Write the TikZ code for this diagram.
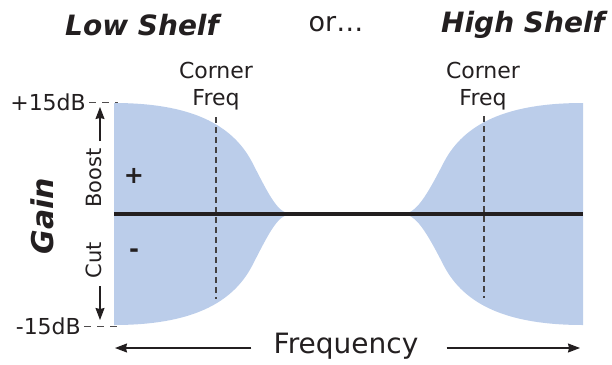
\documentclass[tikz,border=0pt]{standalone}
\usepackage{fontspec}
\setmainfont{DejaVu Sans}
\usepackage{tikz}
\usetikzlibrary{arrows.meta,positioning}

\definecolor{shelfblue}{RGB}{187,205,234}
\definecolor{ink}{RGB}{35,31,32}

\begin{document}
\begin{tikzpicture}[
  x=1pt, y=-1pt,
  title/.style={font=\fontsize{28}{32}\selectfont\bfseries\itshape, text=ink, inner sep=0pt},
  label/.style={font=\fontsize{22}{27}\selectfont, text=ink, align=center, inner sep=0pt},
  side/.style={font=\fontsize{21}{24}\selectfont, text=ink, rotate=90, inner sep=0pt},
  cornerline/.style={draw=ink!85, line width=1.1pt, dash pattern=on 6pt off 4pt},
  tick/.style={draw=ink!80, line width=0.9pt, dash pattern=on 7pt off 6pt},
  flow/.style={-{Stealth[length=12pt,width=9pt,inset=1pt]}, line width=1.2pt, draw=ink}
]
\useasboundingbox (0,0) rectangle (612,364);

% shaded shelf regions
\fill[shelfblue] (114,103) .. controls (190,103) and (232,124) .. (252,162)
  .. controls (270,197) and (278,214) .. (292,214)
  .. controls (278,214) and (270,231) .. (252,266)
  .. controls (232,304) and (190,325) .. (114,325) -- cycle;
\fill[shelfblue] (583,103) .. controls (506,103) and (464,124) .. (444,162)
  .. controls (426,197) and (416,214) .. (402,214)
  .. controls (416,214) and (426,231) .. (444,266)
  .. controls (464,304) and (506,325) .. (583,325) -- cycle;

% corner frequencies
\coordinate (lowtop) at (216,117);
\coordinate (lowbot) at (216,299);
\coordinate (hightop) at (484,116);
\coordinate (highbot) at (484,298);
\draw[cornerline] (lowtop) -- (lowbot);
\draw[cornerline] (hightop) -- (highbot);

% flat response
\coordinate (flatL) at (114,214);
\coordinate (flatR) at (583,214);
\draw[ink, line width=3.6pt] (flatL) -- (flatR);

% titles
\node[title] (low) at (142,25) {Low Shelf};
\node[label, font=\fontsize{27}{30}\selectfont] (or) at (336,24) {or\ldots};
\node[title] (high) at (523,25) {High Shelf};

\node[label] (lowcorner) at (216,86) {Corner\\Freq};
\node[label] (highcorner) at (483,86) {Corner\\Freq};

% gain axis
\node[label, anchor=east] (plus15) at (86,102) {+15dB};
\node[label, anchor=east] (minus15) at (81,326) {-15dB};
\coordinate (plustick) at (118,102);
\coordinate (minustick) at (118,326);
\draw[tick] ([xshift=3pt]plus15.east) -- (plustick);
\draw[tick] ([xshift=3pt]minus15.east) -- (minustick);

\node[side] (boost) at (94,178) {Boost};
\node[side] (cut) at (94,260) {Cut};
\coordinate (boosttip) at (100,107);
\coordinate (cuttip) at (100,320);
\draw[flow] (boost.east -| boosttip) ++(0,-7) -- (boosttip);
\draw[flow] (cut.west -| cuttip) ++(0,8) -- (cuttip);

\node[title, rotate=90, font=\fontsize{30}{34}\selectfont\bfseries\itshape] (gain) at (42,216) {Gain};

\node[label, font=\fontsize{24}{28}\selectfont\bfseries] (boostsign) at (134,176) {+};
\node[label, font=\fontsize{24}{28}\selectfont\bfseries] (cutsign) at (134,253) {-};

% frequency axis
\node[label, font=\fontsize{28}{32}\selectfont] (freq) at (346,346) {Frequency};
\coordinate (freqL) at (115,348);
\coordinate (freqR) at (580,348);
\draw[flow] ([xshift=-22pt]freq.west |- freqL) -- (freqL);
\draw[flow] ([xshift=28pt]freq.east |- freqR) -- (freqR);
\end{tikzpicture}
\end{document}
